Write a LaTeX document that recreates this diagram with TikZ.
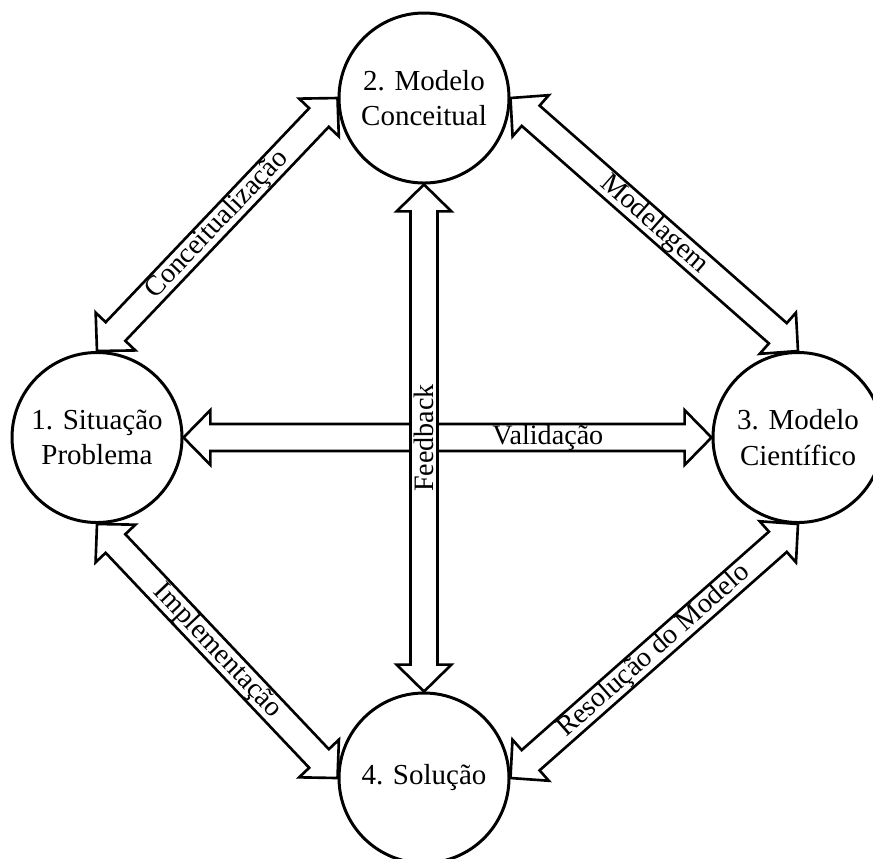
\documentclass[tikz,border=0pt]{standalone}
\usepackage{fontspec}
\setmainfont{Liberation Serif}
\usetikzlibrary{calc}

% sizes of the hollow arrows
\newcommand{\headlen}{15.3pt}
\newcommand{\headhalf}{15.6pt}
\newcommand{\shafthalf}{7.7pt}

% hollow double arrow from #1 to #2, label #4 placed at fraction #3
\newcommand{\blockarrow}[4]{%
  \draw[blockbody] let \p1=(#1), \p2=(#2),
      \n1={atan2(\y2-\y1,\x2-\x1)}, \n2={veclen(\x2-\x1,\y2-\y1)} in
    {[shift={(\p1)}, rotate=\n1]
      (0pt,0pt) -- (\headlen,\headhalf) -- (\headlen,\shafthalf)
      -- (\n2-\headlen,\shafthalf) -- (\n2-\headlen,\headhalf) -- (\n2+0pt,0pt)
      -- (\n2-\headlen,-\headhalf) -- (\n2-\headlen,-\shafthalf)
      -- (\headlen,-\shafthalf) -- (\headlen,-\headhalf) -- cycle}
    node[arrowlabel, rotate=\n1] at ($(#1)!#3!(#2)$) {#4};
}

\begin{document}
\begin{tikzpicture}[
    stage/.style={circle, draw, line width=1.7pt, minimum size=3.4cm, inner sep=0pt,
      align=center, font=\fontsize{16.5}{20}\selectfont},
    blockbody/.style={draw, fill=white, line width=1.5pt, line join=miter},
    arrowlabel/.style={inner sep=0pt, font=\fontsize{16}{18}\selectfont}]
    \useasboundingbox (0,0) rectangle (17.46,-17.16);
    % The four stages
    \node[stage] (sit) at (1.94,-8.75) {1. Situação\\Problema};
    \node[stage] (conc) at (8.48,-1.96) {2. Modelo\\Conceitual};
    \node[stage] (cient) at (15.96,-8.75) {3. Modelo\\Científico};
    \node[stage] (sol) at (8.48,-15.56) {4. Solução};
    % Arrows round the cycle
    \blockarrow{sit.north}{conc.west}{0.5}{Conceitualização}
    \blockarrow{conc.east}{cient.north}{0.5}{Modelagem}
    \blockarrow{sol.east}{cient.south}{0.5}{Resolução do Modelo}
    \blockarrow{sit.south}{sol.west}{0.5}{Implementação}
    % Across the middle, feedback drawn last so it lies on top
    \blockarrow{sit.east}{cient.west}{0.69}{Validação}
    \blockarrow{sol.north}{conc.south}{0.5}{Feedback}
\end{tikzpicture}
\end{document}
